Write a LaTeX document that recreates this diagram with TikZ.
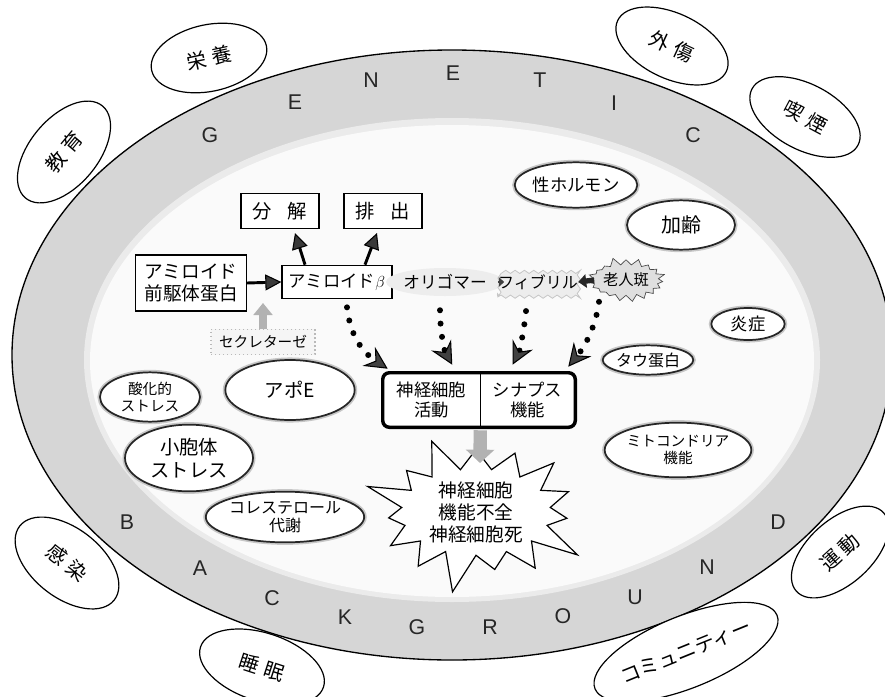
\documentclass[tikz,border=0pt]{standalone}
\usepackage{fontspec}
\setmainfont{Noto Sans CJK JP}
\newfontfamily\latinsans{Liberation Sans}
\usetikzlibrary{shapes.geometric,shapes.symbols,arrows.meta,calc,decorations.pathmorphing}
\begin{document}
\begin{tikzpicture}[x=0.75pt,y=-0.75pt,
  outer/.style={ellipse, draw=black, line width=0.9pt, fill=white, inner sep=0pt, font=\fontsize{15}{18}\selectfont},
  inring/.style={ellipse, draw=black!85, line width=1.3pt, fill=white, inner sep=0pt, align=center, preaction={draw=gray!45, line width=3.8pt}},
  box/.style={rectangle, draw=black, line width=1pt, fill=white, inner sep=0pt, align=center},
  bandletter/.style={font=\latinsans\fontsize{16}{16}\selectfont, text=black!85},
  blkarrow/.style={line width=2.2pt, -{Triangle[length=12pt,width=12pt,fill=gray!45!black,line width=0.8pt]}},
  dotarrow/.style={line width=4.5pt, dash pattern=on 0pt off 10pt, line cap=round, -{Stealth[length=17pt,width=17pt,inset=6pt,fill=gray!50!black,line width=0.8pt]}},
  grayarrow/.style={gray!60}
]
\useasboundingbox (0,0) rectangle (885,696);
\fill[white] (0,0) rectangle (885,696);
% background band
\draw[line width=1pt, fill=gray!32] (452,355) ellipse [x radius=440, y radius=305];
\fill[gray!16] (452,360) ellipse [x radius=368, y radius=242];
\fill[gray!4] (452,361) ellipse [x radius=362, y radius=236];
% band letters
\node[bandletter] (gG) at (210,135) {G};
\node[bandletter] (gE1) at (295,102) {E};
\node[bandletter] (gN) at (371,80) {N};
\node[bandletter] (gE2) at (453,73) {E};
\node[bandletter] (gT) at (540,80) {T};
\node[bandletter] (gI) at (614,103) {I};
\node[bandletter] (gC) at (693,135) {C};
\node[bandletter] (bB) at (127,522) {B};
\node[bandletter] (bA) at (200,568) {A};
\node[bandletter] (bC) at (272,598) {C};
\node[bandletter] (bK) at (345,617) {K};
\node[bandletter] (bG) at (417,627) {G};
\node[bandletter] (bR) at (490,627) {R};
\node[bandletter] (bO) at (563,616) {O};
\node[bandletter] (bU) at (635,597) {U};
\node[bandletter] (bN) at (707,567) {N};
\node[bandletter] (bD) at (778,522) {D};
% outside factors
\node[outer, rotate=12, minimum width=88pt, minimum height=50pt] (eiyo) at (209,58) {栄\hspace{0.3em}養};
\node[outer, rotate=50, minimum width=90pt, minimum height=51pt] (kyoiku) at (64,152) {教\hspace{0.3em}育};
\node[outer, rotate=-25, minimum width=90pt, minimum height=49pt] (gaisho) at (672,46) {外\hspace{0.3em}傷};
\node[outer, rotate=-28, minimum width=90pt, minimum height=49pt] (kitsuen) at (805,117) {喫\hspace{0.3em}煙};
\node[outer, rotate=-38, minimum width=90pt, minimum height=52pt] (kansen) at (67,563) {感\hspace{0.3em}染};
\node[outer, rotate=-18, minimum width=97pt, minimum height=51pt] (suimin) at (262,667) {睡\hspace{0.3em}眠};
\node[outer, rotate=42, minimum width=88pt, minimum height=48pt] (undo) at (840,552) {運\hspace{0.2em}動};
\node[outer, rotate=22, minimum width=138pt, minimum height=54pt] (comm) at (686,652) {コミュニティー};
% inner factors
\node[inring, minimum width=81pt, minimum height=34pt, font=\fontsize{13}{15}\selectfont] (sei) at (576,185) {性ホルモン};
\node[inring, minimum width=81pt, minimum height=37pt, font=\fontsize{15}{17}\selectfont] (karei) at (681,225) {加齢};
\node[inring, minimum width=55pt, minimum height=24pt, font=\fontsize{13}{15}\selectfont] (ensho) at (748,324) {炎症};
\node[inring, minimum width=60pt, minimum height=22pt, font=\fontsize{12}{14}\selectfont] (tau) at (648,360) {タウ蛋白};
\node[inring, minimum width=110pt, minimum height=41pt, font=\fontsize{11}{13}\selectfont] (mito) at (678,450) {ミトコンドリア\\機能};
\node[inring, minimum width=75pt, minimum height=37pt, font=\fontsize{11}{12.5}\selectfont] (sanka) at (150,397) {酸化的\\ストレス};
\node[inring, minimum width=97pt, minimum height=45pt, font=\fontsize{14.5}{17}\selectfont] (apoe) at (290,390) {アポE};
\node[inring, minimum width=96pt, minimum height=50pt, font=\fontsize{14.5}{17}\selectfont] (shohotai) at (189,458) {小胞体\\ストレス};
\node[inring, minimum width=108pt, minimum height=38pt, font=\fontsize{12}{14}\selectfont] (chol) at (285,517) {コレステロール\\代謝};
% central starburst
\node[starburst, draw=black, line width=0.9pt, fill=white, starburst points=15, starburst point height=32pt, random starburst=9, minimum width=176pt, minimum height=120pt, align=center, inner sep=0pt, font=\fontsize{14}{16.5}\selectfont] (star) at (476,512) {神経細胞\\機能不全\\神経細胞死};
% amyloid pathway
\node[box, minimum width=58.5pt, minimum height=26pt, font=\fontsize{14.5}{17}\selectfont] (bun) at (280,211) {分\hspace{0.8em}解};
\node[box, minimum width=58.5pt, minimum height=26pt, font=\fontsize{14.5}{17}\selectfont] (hai) at (383,211) {排\hspace{0.8em}出};
\node[box, minimum width=83pt, minimum height=42pt, font=\fontsize{14}{16.5}\selectfont] (pre) at (191,283) {アミロイド\\前駆体蛋白};
\node[box, minimum width=82.5pt, minimum height=25pt, font=\fontsize{13}{15}\selectfont] (ab) at (337,282) {アミロイド$\beta$};
\node[box, draw=gray!55, dotted, line width=1pt, fill=gray!8, minimum width=78pt, minimum height=19pt, font=\fontsize{11}{13}\selectfont] (sec) at (263,342) {セクレターゼ};
\node[ellipse, fill=gray!14, inner sep=0pt, minimum width=66pt, minimum height=21pt, font=\fontsize{12.5}{14}\selectfont] (olig) at (445,282) {オリゴマー};
\node[rectangle, draw=gray!45, fill=gray!14, line width=0.6pt, inner sep=0pt, minimum width=57pt, minimum height=22pt, decorate, decoration={snake, amplitude=1.2pt, segment length=7pt}, font=\fontsize{12}{14}\selectfont] (fib) at (538,282) {フィブリル};
\node[starburst, draw=gray!55!black, line width=0.5pt, fill=gray!25, starburst points=19, starburst point height=6pt, random starburst=5, minimum width=51pt, minimum height=35pt, inner sep=0pt, font=\fontsize{11.5}{13}\selectfont] (plaque) at (626,280) {老人斑};
% central box
\node[rectangle, fill=white, inner sep=0pt, minimum width=72.75pt, minimum height=40.5pt, align=center, font=\fontsize{13}{15.5}\selectfont] (act) at (431.5,400) {神経細胞\\活動};
\node[rectangle, fill=white, inner sep=0pt, minimum width=71.25pt, minimum height=40.5pt, align=center, font=\fontsize{13}{15.5}\selectfont] (syn) at (527.5,400) {シナプス\\機能};
\draw[line width=2.6pt, rounded corners=5pt] (act.north west) rectangle (syn.south east);
\draw[line width=1pt] (act.north east) -- (act.south east);
% arrows
\coordinate (sectip) at (263,303);
\coordinate (dtip) at (480,463);
\draw[blkarrow] (pre.east) -- (ab.west);
\draw[blkarrow] ($(ab.north)+(-32,0)$) -- ($(bun.south)+(15,4)$);
\draw[blkarrow] ($(ab.north)+(28,0)$) -- ($(hai.south)+(-6,4)$);
\draw[grayarrow, line width=6pt, -{Triangle[length=9pt,width=14pt]}] (sec.north) -- (sectip);
\draw[grayarrow, line width=10pt, -{Triangle[length=10pt,width=21pt]}] ($(act.south east)+(0,3)$) -- (dtip);
\draw[gray!50!black, line width=2pt, -{Triangle[length=4pt,width=7pt]}] (fib.west) -- (olig.east);
\draw[gray!30!black, line width=4pt, -{Triangle[length=6pt,width=10pt]}] ($(plaque.west)+(4,0)$) -- (fib.east);
\draw[dotarrow] ($(ab.south)+(10,8)$) .. controls (350,335) and (362,352) .. ($(act.north west)+(5,-4)$);
\draw[dotarrow] ($(olig.south)+(-5,14)$) .. controls (440,330) and (444,350) .. ($(act.north east)+(-28,-8)$);
\draw[dotarrow] ($(fib.south)+(-12,14)$) .. controls (524,330) and (520,350) .. ($(syn.north)+(-15,-8)$);
\draw[dotarrow] ($(plaque.south)+(-27,6)$) .. controls (596,325) and (586,345) .. ($(syn.north east)+(-7,-6)$);
\end{tikzpicture}
\end{document}
